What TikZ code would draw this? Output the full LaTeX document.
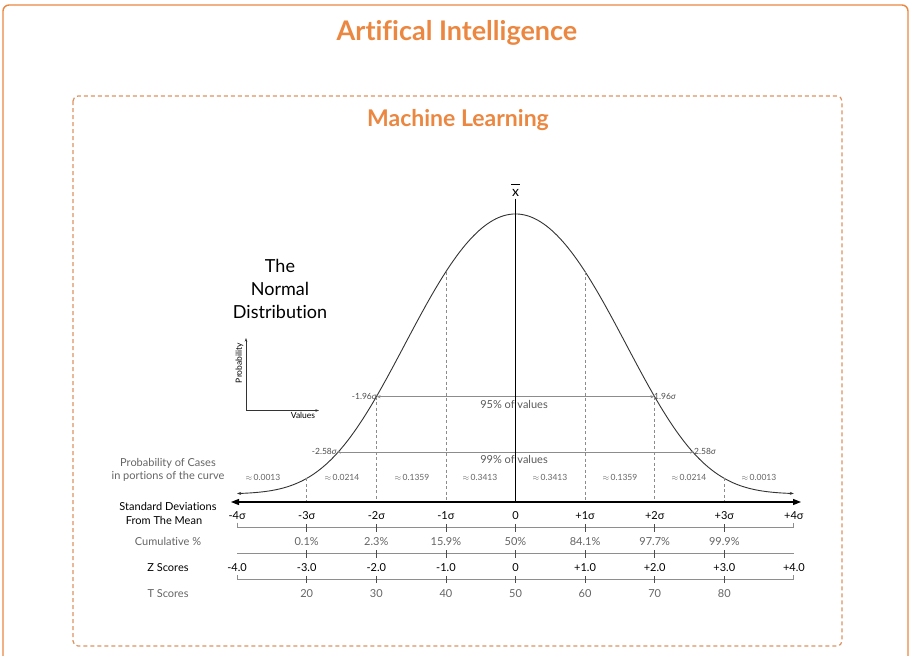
\documentclass[tikz,border=0pt]{standalone}
\usepackage{fontspec}
\setmainfont[Ligatures=CommonOff]{Lato}
\usetikzlibrary{arrows.meta}
\definecolor{orng}{HTML}{EB8740}
\definecolor{dorng}{HTML}{DC9262}
\definecolor{lbl}{HTML}{646464}
\definecolor{rowln}{HTML}{8E8E8E}
\definecolor{crv}{HTML}{333333}
\newcommand\fsz[1]{\fontsize{#1}{#1}\selectfont}
\begin{document}
\begin{tikzpicture}[x=1pt,y=-1pt,
  every node/.style={inner sep=0pt},
  aititle/.style={text=orng,font=\fsz{27}\bfseries},
  mltitle/.style={text=orng,font=\fsz{23}\bfseries},
  blk/.style={font=\fsz{11},text=black},
  gry/.style={font=\fsz{11},text=lbl},
  probv/.style={font=\fsz{8.5},text=lbl},
  sml/.style={font=\fsz{8.5},text=black!70},
  rowline/.style={draw=rowln,line width=1.1pt},
  tickst/.style={draw=black!70,line width=0.8pt},
  dashln/.style={draw=black!45,line width=0.7pt,dash pattern=on 3pt off 2.5pt},
  rangeln/.style={draw=black!45,line width=1pt,{Stealth[length=4pt,width=3pt]}-{Stealth[length=4pt,width=3pt]}},
  curve/.style={draw=crv,line width=0.9pt,{Stealth[length=4pt,width=3pt]}-{Stealth[length=4pt,width=3pt]}},
  mainaxis/.style={draw=black,line width=1.2pt,{Triangle[length=8pt,width=6pt]}-{Triangle[length=8pt,width=6pt]}}
]
\useasboundingbox (0,0) rectangle (911,656);
% frames
\draw[orng,line width=1.4pt,rounded corners=6pt] (3,5) rectangle (908,720);
\draw[dorng,line width=1.2pt,dash pattern=on 4pt off 3pt,rounded corners=5pt] (73,96) rectangle (842,646);
\node[aititle] (ai) at (457,33) {Artifical Intelligence};
\node[mltitle] (ml) at (458,120) {Machine Learning};

% title of chart
\node[font=\fsz{18},align=center] (tnd) at (280,289) {The\\[4.6pt]Normal\\[4.6pt]Distribution};

% small axes
\coordinate (ao) at (246,410.5);
\coordinate (ay) at (246,338);
\coordinate (ax) at (319,410.5);
\draw[black!80,line width=0.8pt,-{Stealth[length=3.5pt,width=2.5pt]}] (ao) -- (ay);
\draw[black!80,line width=0.8pt,-{Stealth[length=3.5pt,width=2.5pt]}] (ao) -- (ax);
\node[font=\fsz{8.5},rotate=90] (prl) at (239.5,363) {Probability};
\node[font=\fsz{8.5}] (vll) at (303,415.5) {Values};

% curve
\draw[curve] plot[domain=-4:4,samples=201] ({515.5+69.6*\x},{494-280*exp(-(0.2198*\x*\x+0.0112*\x*\x*\x*\x))});

% dashed verticals
\foreach \i/\yy in {1/478.4,2/396.8,3/271.7,5/271.7,6/396.8,7/478.4}{
  \coordinate (dt\i) at ({237.1+69.6*\i},\yy);
  \coordinate (db\i) at ({237.1+69.6*\i},502);
  \draw[dashln] (dt\i) -- (db\i);
}

% main axis and mean line
\coordinate (axl) at (231,502);
\coordinate (axr) at (801,502);
\draw[mainaxis] (axl) -- (axr);
\node[font=\fsz{14}] (xbar) at (515.5,192.5) {x};
\coordinate (xbl) at (511.2,184.6);
\coordinate (xbr) at (519.8,184.6);
\draw[black,line width=1pt] (xbl) -- (xbr);
\coordinate (mb) at (515.5,502);
\coordinate (mt) at (515.5,198.5);
\draw[black,line width=1.2pt] (mt) -- (mb);

% 95% / 99% ranges
\coordinate (l95) at (376.6,396.7);
\coordinate (r95) at (654.4,396.7);
\coordinate (l99) at (336.8,452);
\coordinate (r99) at (694.2,452);
\draw[rangeln] (l95) -- (r95);
\draw[rangeln] (l99) -- (r99);
\node[sml,anchor=east] (tl95) at (377,396.3) {-1.96\textit{σ}};
\node[sml,anchor=west] (tr95) at (654,396.3) {1.96\textit{σ}};
\node[sml,anchor=east] (tl99) at (337,451.6) {-2.58\textit{σ}};
\node[sml,anchor=west] (tr99) at (694,451.6) {2.58\textit{σ}};
\node[gry,text=black!65] (p95) at (514,404) {95\% of values};
\node[gry,text=black!65] (p99) at (514,459) {99\% of values};
\draw[black,line width=1.2pt] (515.5,380) -- (515.5,470);

% probability values
\foreach \xx/\t [count=\k] in {263/0.0013,342/0.0214,412/0.1359,480/0.3413,550/0.3413,620/0.1359,689/0.0214,759/0.0013}{
  \node[probv] (pv\k) at (\xx,477) {$\approx$\,\t};
}

% left labels
\node[gry] (lab1) at (168,463.3) {Probability of Cases};
\node[gry] (lab2) at (168,476.7) {in portions of the curve};
\node[blk] (lab3) at (168,506.7) {Standard Deviations};
\node[blk] (lab4) at (164,520.7) {From The Mean};
\node[gry] (lab5) at (168,541.7) {Cumulative \%};
\node[blk] (lab6) at (168,567.7) {Z Scores};
\node[gry] (lab7) at (168,594) {T Scores};

% sigma labels
\foreach \t [count=\i from 0] in {-4σ,-3σ,-2σ,-1σ,0,+1σ,+2σ,+3σ,+4σ}{
  \node[blk] (sd\i) at ({237.1+69.6*\i},515.5) {\t};
}
% row line 1
\coordinate (r1a) at (237.1,522.7); \coordinate (r1b) at (237.1,527.7);
\coordinate (r1c) at (793.9,527.7); \coordinate (r1d) at (793.9,522.7);
\draw[rowline] (r1a) -- (r1b) -- (r1c) -- (r1d);
% cumulative
\foreach \t [count=\i] in {0.1\%,2.3\%,15.9\%,50\%,84.1\%,97.7\%,99.9\%}{
  \node[gry] (cu\i) at ({237.1+69.6*\i},542) {\t};
}
% row line 2
\coordinate (r2a) at (237.1,553.5); \coordinate (r2b) at (793.9,553.5);
\draw[rowline] (r2a) -- (r2b);
% z scores
\foreach \t [count=\i from 0] in {-4.0,-3.0,-2.0,-1.0,0,+1.0,+2.0,+3.0,+4.0}{
  \node[blk] (zs\i) at ({237.1+69.6*\i},568) {\t};
}
% row line 3
\coordinate (r3a) at (237.1,575); \coordinate (r3b) at (237.1,579.7);
\coordinate (r3c) at (793.9,579.7); \coordinate (r3d) at (793.9,575);
\draw[rowline] (r3a) -- (r3b) -- (r3c) -- (r3d);
% t scores
\foreach \t [count=\i] in {20,30,40,50,60,70,80}{
  \node[gry] (ts\i) at ({237.1+69.6*\i},593.5) {\t};
}
% ticks
\foreach \i in {1,...,7}{
  \draw[tickst] ({237.1+69.6*\i},524.3) -- ({237.1+69.6*\i},532.3);
  \draw[tickst] ({237.1+69.6*\i},550) -- ({237.1+69.6*\i},557.5);
  \draw[tickst] ({237.1+69.6*\i},576) -- ({237.1+69.6*\i},583.3);
}
\end{tikzpicture}
\end{document}
